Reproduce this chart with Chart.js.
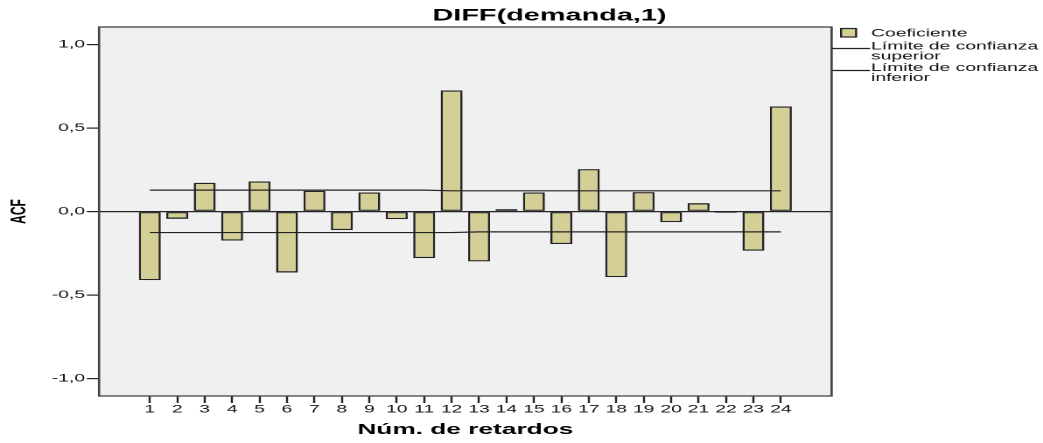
<!DOCTYPE html>
<html>
<head>
<meta charset="utf-8">
<script src="https://cdn.jsdelivr.net/npm/chart.js@4"></script>
<style>
  html, body { margin: 0; padding: 0; background: #ffffff; overflow: hidden; }
  #wrap { position: absolute; left: 0; top: 0; width: 596px; height: 443px;
          transform: scaleX(1.75); transform-origin: 0 0; }
</style>
</head>
<body>
<div id="wrap"><canvas id="c"></canvas></div>
<script>
// ---- data ----
const chartTitle = 'DIFF(demanda,1)';
const xAxisTitle = 'Núm. de retardos';
const yAxisTitle = 'ACF';
const lags = [1,2,3,4,5,6,7,8,9,10,11,12,13,14,15,16,17,18,19,20,21,22,23,24];
const coeficiente = [-0.411,-0.044,0.172,-0.174,0.180,-0.365,0.124,-0.111,0.114,-0.046,-0.279,0.725,
                     -0.299,0.014,0.114,-0.195,0.254,-0.393,0.116,-0.064,0.050,-0.008,-0.235,0.629];
const limiteSuperior = [0.128,0.128,0.128,0.128,0.128,0.128,0.128,0.128,0.128,0.128,0.128,0.124,
                        0.124,0.124,0.124,0.124,0.124,0.124,0.124,0.124,0.124,0.124,0.124,0.124];
const limiteInferior = [-0.126,-0.126,-0.126,-0.126,-0.126,-0.126,-0.126,-0.126,-0.126,-0.126,-0.126,-0.126,
                        -0.122,-0.122,-0.122,-0.122,-0.122,-0.122,-0.122,-0.122,-0.122,-0.122,-0.122,-0.122];
const yTickValues = [-1, -0.5, 0, 0.5, 1];
const yTickLabels = ['-1,0', '-0,5', '0,0', '0,5', '1,0'];
const legendLabels = ['Coeficiente', ['Límite de confianza', 'superior'], ['Límite de confianza', 'inferior']];

// ---- styles ----
const FONT = '"Liberation Sans", Arial, sans-serif';
const BAR_FILL = '#d4ce97';
const DARK = '#222222';
const PLOT_BG = '#f0f0f0';
const TEXT = '#111111';

const plotDecor = {
  id: 'plotDecor',
  beforeDraw(chart) {
    const a = chart.chartArea, ctx = chart.ctx;
    ctx.save();
    ctx.fillStyle = PLOT_BG;
    ctx.fillRect(a.left, a.top, a.right - a.left, a.bottom - a.top);
    ctx.restore();
  },
  afterDatasetsDraw(chart) {
    const a = chart.chartArea, ctx = chart.ctx;
    ctx.save();
    ctx.strokeStyle = '#444444';
    ctx.lineWidth = 1.3;
    ctx.strokeRect(a.left, a.top, a.right - a.left, a.bottom - a.top);
    ctx.restore();
  },
  afterDraw(chart) {
    const a = chart.chartArea, ctx = chart.ctx;
    ctx.save();
    // title
    ctx.fillStyle = '#000';
    ctx.font = 'bold 16.5px ' + FONT;
    ctx.textAlign = 'center';
    ctx.textBaseline = 'middle';
    ctx.fillText(chartTitle, 314, 16);
    // legend
    ctx.font = '11px ' + FONT;
    ctx.textAlign = 'left';
    ctx.fillStyle = BAR_FILL;
    ctx.fillRect(480.6, 28.5, 8.6, 8.5);
    ctx.strokeStyle = DARK;
    ctx.lineWidth = 1.2;
    ctx.strokeRect(480.6, 28.5, 8.6, 8.5);
    ctx.fillStyle = TEXT;
    const tx = 497.8;
    ctx.fillText(legendLabels[0], tx, 33.5);
    ctx.beginPath();
    ctx.moveTo(a.right, 48.5); ctx.lineTo(497.2, 48.5);
    ctx.moveTo(a.right, 70.5); ctx.lineTo(497.2, 70.5);
    ctx.stroke();
    ctx.fillText(legendLabels[1][0], tx, 46.5);
    ctx.fillText(legendLabels[1][1], tx, 56.5);
    ctx.fillText(legendLabels[2][0], tx, 68);
    ctx.fillText(legendLabels[2][1], tx, 78);
    ctx.restore();
  }
};

const toXY = arr => lags.map((l, i) => ({ x: l, y: arr[i] }));

new Chart(document.getElementById('c'), {
  data: {
    datasets: [
      { type: 'line', label: 'Límite de confianza superior', data: toXY(limiteSuperior),
        borderColor: DARK, borderWidth: 1.2, pointRadius: 0, tension: 0, fill: false, order: 0 },
      { type: 'line', label: 'Límite de confianza inferior', data: toXY(limiteInferior),
        borderColor: DARK, borderWidth: 1.2, pointRadius: 0, tension: 0, fill: false, order: 0 },
      { type: 'bar', label: 'Coeficiente', data: toXY(coeficiente),
        backgroundColor: BAR_FILL, borderColor: DARK, borderWidth: 1.3, borderSkipped: false,
        categoryPercentage: 1, barPercentage: 0.8, order: 1 }
    ]
  },
  options: {
    responsive: true,
    maintainAspectRatio: false,
    devicePixelRatio: 2,
    animation: false,
    layout: { padding: { left: 0, top: 27, right: 120.8, bottom: 0 } },
    plugins: { legend: { display: false }, tooltip: { enabled: false }, title: { display: false } },
    scales: {
      x: {
        type: 'linear', min: -0.85, max: 25.85, offset: false,
        afterBuildTicks: s => { s.ticks = lags.map(v => ({ value: v })); },
        afterFit: s => { s.height = 47; },
        ticks: { autoSkip: false, maxRotation: 0, padding: 0, color: TEXT,
                 font: { family: FONT, size: 11 }, callback: v => String(v) },
        grid: { offset: false, drawOnChartArea: false, drawTicks: true, tickLength: 7, tickColor: DARK, tickWidth: 1.2 },
        border: { display: false },
        title: { display: true, text: xAxisTitle, color: '#000',
                 font: { family: FONT, size: 15, weight: 'bold' }, padding: { top: 0, bottom: 4 } }
      },
      y: {
        min: -1.105, max: 1.105,
        afterBuildTicks: s => { s.ticks = yTickValues.map(v => ({ value: v })); },
        afterFit: s => { s.width = 56.6; },
        ticks: { padding: 1, color: TEXT, font: { family: FONT, size: 11 },
                 callback: v => { const i = yTickValues.indexOf(v); return i >= 0 ? yTickLabels[i] : ''; } },
        grid: { offset: false, drawTicks: true, tickLength: 7, tickColor: DARK, tickWidth: 1.2,
                color: c => (c.tick && c.tick.value === 0) ? DARK : 'rgba(0,0,0,0)', lineWidth: 1.2 },
        border: { display: false },
        title: { display: true, text: yAxisTitle, color: '#000',
                 font: { family: FONT, size: 12, weight: 'bold' }, padding: { top: 4, bottom: 0 } }
      }
    }
  },
  plugins: [plotDecor]
});
</script>
</body>
</html>
